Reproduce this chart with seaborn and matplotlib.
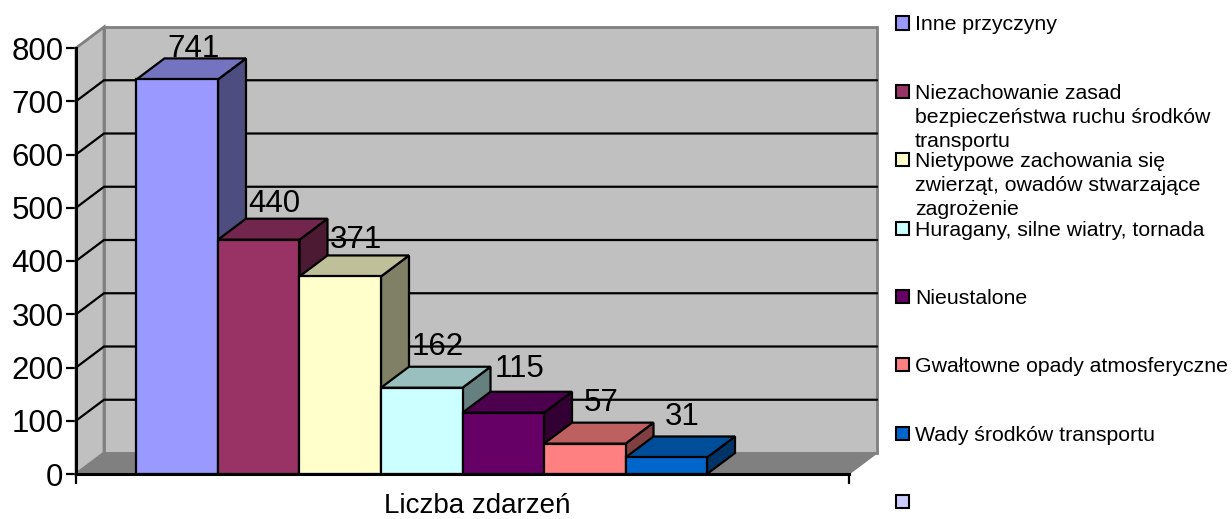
import numpy as np
import pandas as pd
import matplotlib.pyplot as plt
from matplotlib.colors import to_rgb
from matplotlib.patches import Polygon, Rectangle
import seaborn as sns

causes = ["Inne przyczyny",
          "Niezachowanie zasad\nbezpieczeństwa ruchu środków\ntransportu",
          "Nietypowe zachowania się\nzwierząt, owadów stwarzające\nzagrożenie",
          "Huragany, silne wiatry, tornada",
          "Nieustalone",
          "Gwałtowne opady atmosferyczne",
          "Wady środków transportu",
          " "]
values = [741, 440, 371, 162, 115, 57, 31, np.nan]
colors = ["#9999FF", "#993366", "#FFFFCC", "#CCFFFF", "#660066", "#FF8080", "#0066CC", "#CCCCFF"]
yticks = [0, 100, 200, 300, 400, 500, 600, 700, 800]
category = "Liczba zdarzeń"

# uniesienie etykiet nad slupkami (piksele w gore)
label_lift = [0, 5, 6, 10, 13, 10, 10]

sns.set_theme(style="ticks")
plt.rcParams['font.family'] = ['Liberation Sans', 'DejaVu Sans']

W, H = 1232, 519
fig = plt.figure(figsize=(W / 100, H / 100), dpi=100)
ax = fig.add_axes([76 / W, (H - 474) / H, 773 / W, 426 / H])
ax.set_facecolor('none')

df = pd.DataFrame({'kat': [category] * len(causes), 'przyczyna': causes, 'liczba': values})
sns.barplot(data=df, x='kat', y='liczba', hue='przyczyna', hue_order=causes, palette=colors,
            width=0.8435, gap=0, legend=False, ax=ax, edgecolor='black', linewidth=1.6, saturation=1)
ax.set_xlim(-0.5, 0.5)
ax.set_ylim(0, 800)

# glebokosc "3D" w jednostkach danych
dx = 28 / 773
dy = 21 / 426 * 800


def poly(points, face, z, edge='black', lw=1.6):
    ax.add_patch(Polygon(points, closed=True, facecolor=face, edgecolor=edge, linewidth=lw,
                         joinstyle='miter', zorder=z, clip_on=False))


def shade(color, k):
    return tuple(c * k for c in to_rgb(color))


# sciany i podloga
x0, x1 = -0.5, 0.5
poly([(x0 + dx, dy), (x1 + dx, dy), (x1 + dx, 800 + dy), (x0 + dx, 800 + dy)], '#C0C0C0', 0.5, '#808080', 2)
poly([(x0, 0), (x0 + dx, dy), (x0 + dx, 800 + dy), (x0, 800)], '#C0C0C0', 0.6, '#808080', 2)
poly([(x0, 0), (x1, 0), (x1 + dx, dy), (x0 + dx, dy)], '#808080', 0.7, '#808080', 1)
for v in yticks[1:-1]:
    ax.plot([x0, x0 + dx, x1 + dx], [v, v + dy, v + dy], color='black', lw=1.6, zorder=0.8,
            clip_on=False, solid_joinstyle='miter')

# slupki: przod z seaborna, bok i gora dorysowane
i = 0
for cont in ax.containers:
    for bar in cont:
        h = bar.get_height()
        if np.isnan(h) or h == 0:
            continue
        left, right = bar.get_x(), bar.get_x() + bar.get_width()
        z = 3 + i
        bar.set_zorder(z + 0.2)
        col = colors[i]
        poly([(right, 0), (right + dx, dy), (right + dx, h + dy), (right, h)], shade(col, 0.5), z)
        poly([(left, h), (right, h), (right + dx, h + dy), (left + dx, h + dy)], shade(col, 0.75), z + 0.1)
        ax.annotate(str(int(h)), ((left + right) / 2, h + dy), xytext=(11.5, 1 + label_lift[i] * 0.72),
                    textcoords='offset points', ha='center', va='baseline', fontsize=22.5,
                    color='black', zorder=20)
        i += 1

ax.set_yticks(yticks)
ax.set_xticks([-0.5, 0.5], ['', ''])
ax.tick_params(axis='y', labelsize=22.5, length=7, width=1.6, pad=2, color='black', labelcolor='black')
ax.tick_params(axis='x', length=7, width=1.6, color='black')
ax.set_ylabel('')
ax.set_xlabel('')
fig.text(477 / W, (H - 506) / H, category, fontsize=20, ha='center', va='center', color='black')
sns.despine(ax=ax)
for side in ['left', 'bottom']:
    ax.spines[side].set_linewidth(2.2)
    ax.spines[side].set_color('black')
    ax.spines[side].set_zorder(30)

# legenda
leg_top = 23
leg_step = 68.35
for n, (name, col) in enumerate(zip(causes, colors)):
    yp = leg_top + n * leg_step
    fig.add_artist(Rectangle((896 / W, (H - yp - 6.5) / H), 13 / W, 13 / H, facecolor=col,
                             edgecolor='black', linewidth=1.5, transform=fig.transFigure))
    fig.text(915 / W, (H - yp + 7.5) / H, name, fontsize=15.3, va='top', ha='left', color='black',
             linespacing=1.33)

fig.savefig('out.png', dpi=100)
